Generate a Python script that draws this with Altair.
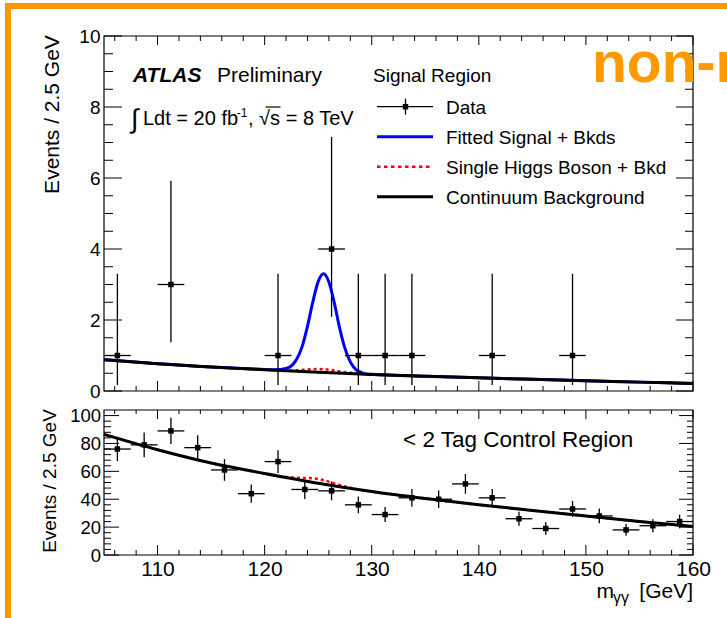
import altair as alt
import pandas as pd

FONT = "Liberation Sans"
ORANGE = "#FF9900"

# ---------------- data ----------------
# Signal region (top panel) data points, bin width 2.5 GeV
top_mass = [106.25, 111.25, 121.25, 126.25, 128.75, 131.25, 133.75, 141.25, 148.75]
top_events = [1, 3, 1, 4, 1, 1, 1, 1, 1]
top_err_lo = [0.17, 1.37, 0.17, 2.09, 0.17, 0.17, 0.17, 0.17, 0.17]
top_err_hi = [3.30, 5.92, 3.30, 7.16, 3.30, 3.30, 3.30, 3.30, 3.30]

# < 2 tag control region (bottom panel) data points
bot_mass = [106.25, 108.75, 111.25, 113.75, 116.25, 118.75, 121.25, 123.75, 126.25, 128.75, 131.25,
            133.75, 136.25, 138.75, 141.25, 143.75, 146.25, 148.75, 151.25, 153.75, 156.25, 158.75]
bot_events = [76, 79, 89, 77, 61, 44, 67, 47, 46, 36, 29, 41, 40, 51, 41, 26, 19, 33, 28, 18, 21, 24]
bot_err = [8.7, 8.9, 9.4, 8.8, 7.8, 6.6, 8.2, 6.9, 6.8, 6.0, 5.4, 6.4, 6.3, 7.1, 6.4, 5.1, 4.4, 5.7,
           5.3, 4.2, 4.6, 4.9]
bin_half = 1.25

# Continuum background curves
bkg_mass = [105, 110, 115, 120, 125, 130, 135, 140, 145, 150, 155, 160]
top_bkg = [0.88, 0.77, 0.675, 0.60, 0.53, 0.465, 0.415, 0.37, 0.33, 0.29, 0.25, 0.21]
bot_bkg = [86.5, 75.5, 66.0, 58.5, 51.5, 45.5, 40.5, 36.0, 32.0, 28.0, 24.0, 20.5]

# Fitted signal + backgrounds (top panel)
sig_mass = [105, 110, 115, 118, 120, 121, 122, 122.5, 123, 123.5, 124, 124.5, 125, 125.5, 126,
            126.5, 127, 127.5, 128, 128.5, 129, 129.5, 130, 135, 140, 145, 150, 155, 160]
sig_top = [0.88, 0.77, 0.675, 0.633, 0.608, 0.60, 0.635, 0.705, 0.90, 1.25, 1.82, 2.51, 3.08, 3.30,
           3.07, 2.49, 1.78, 1.20, 0.82, 0.61, 0.525, 0.48, 0.47, 0.415, 0.37, 0.33, 0.29, 0.25, 0.21]

# Single Higgs boson + background
higgs_top_mass = [105, 110, 115, 120, 121, 122, 123, 124, 125, 125.5, 126, 127, 128, 129, 130,
                  135, 140, 145, 150, 155, 160]
higgs_top = [0.88, 0.77, 0.675, 0.60, 0.585, 0.576, 0.583, 0.608, 0.618, 0.614, 0.60, 0.553, 0.514,
             0.488, 0.468, 0.415, 0.37, 0.33, 0.29, 0.25, 0.21]
higgs_bot_mass = [105, 110, 115, 120, 121, 122, 123, 124, 125, 126, 127, 128, 129, 130,
                  135, 140, 145, 150, 155, 160]
higgs_bot = [86.5, 75.5, 66.0, 58.5, 57.15, 56.0, 55.4, 55.2, 54.5, 52.6, 50.2, 48.2, 46.75, 45.5,
             40.5, 36.0, 32.0, 28.0, 24.0, 20.5]

# ticks / labels
x_major = [110, 120, 130, 140, 150, 160]
x_minor = [106, 108, 112, 114, 116, 118, 122, 124, 126, 128, 132, 134, 136, 138, 142, 144, 146, 148,
           152, 154, 156, 158]
top_y_major = [0, 2, 4, 6, 8, 10]
top_y_minor = [0.5, 1, 1.5, 2.5, 3, 3.5, 4.5, 5, 5.5, 6.5, 7, 7.5, 8.5, 9, 9.5]
bot_y_major = [0, 20, 40, 60, 80, 100]
bot_y_minor = [4, 8, 12, 16, 24, 28, 32, 36, 44, 48, 52, 56, 64, 68, 72, 76, 84, 88, 92, 96]

legend_title = "Signal Region"
legend_labels = ["Data", "Fitted Signal + Bkds", "Single Higgs Boson + Bkd", "Continuum Background"]
y_title = "Events / 2.5 GeV"

# ---------------- layout ----------------
X0, TOP_Y0, BOT_Y0 = 104, 36, 410
PLOT_W = 589
TOP_VIEW_W = 727 - X0
TOP_H = 355
BOT_H = 145


def tx(x):
    return x - X0


def ty(y):
    return y - TOP_Y0


def by(y):
    return y - BOT_Y0


XS = alt.Scale(domain=[105, 160], range=[0, PLOT_W], nice=False, zero=False)
YS_TOP = alt.Scale(domain=[0, 10], nice=False, zero=False)
YS_BOT = alt.Scale(domain=[0, 104], nice=False, zero=False)

AX_Y_TOP = alt.Axis(values=top_y_major, ticks=False, domain=False, grid=False, labelFont=FONT,
                    labelFontSize=19, labelColor="black", labelPadding=4, labelFlush=False,
                    labelOverlap=False, title=y_title, titleFont=FONT, titleFontSize=21,
                    titleFontWeight="normal", titleColor="black", titleAngle=270,
                    titleAlign="center", titleBaseline="middle", titleX=-51.5, titleY=ty(114))
AX_Y_BOT = alt.Axis(values=bot_y_major, ticks=False, domain=False, grid=False, labelFont=FONT,
                    labelFontSize=18.5, labelColor="black", labelPadding=3.5, labelFlush=False,
                    labelOverlap=False, title=y_title, titleFont=FONT, titleFontSize=19,
                    titleFontWeight="normal", titleColor="black", titleAngle=270,
                    titleAlign="center", titleBaseline="middle", titleX=-55, titleY=by(480.5))
AX_X_BOT = alt.Axis(values=x_major, ticks=False, domain=False, grid=False, labelFont=FONT,
                    labelFontSize=21, labelColor="black", labelPadding=3.5, labelFlush=False,
                    labelOverlap=False, format="d", title=None)


def one():
    return pd.DataFrame({"d": [0]})


def rect(x, x2, y, y2, color):
    return alt.Chart(one()).mark_rect(color=color).encode(
        x=alt.value(x), x2=alt.value(x2), y=alt.value(y), y2=alt.value(y2))


def frame(w, h):
    return alt.Chart(one()).mark_rect(filled=False, color="black", strokeWidth=1.2).encode(
        x=alt.value(0), x2=alt.value(w), y=alt.value(0), y2=alt.value(h))


def hline(x, x2, y, color="black", width=1.2, dash=None):
    kw = dict(color=color, strokeWidth=width)
    if dash:
        kw["strokeDash"] = dash
    return alt.Chart(one()).mark_rule(**kw).encode(x=alt.value(x), x2=alt.value(x2), y=alt.value(y))


def vline(x, y, y2, width=1.2):
    return alt.Chart(one()).mark_rule(color="black", strokeWidth=width).encode(
        x=alt.value(x), y=alt.value(y), y2=alt.value(y2))


def txt(s, x, y, size, align="left", weight="normal", style="normal", color="black", clip=False):
    return alt.Chart(pd.DataFrame({"t": [s]})).mark_text(
        align=align, baseline="alphabetic", font=FONT, fontSize=size, fontWeight=weight,
        fontStyle=style, color=color, clip=clip).encode(
        text="t:N", x=alt.value(x), y=alt.value(y))


def xticks(vals, length, h, top, xax):
    y, y2 = (0, length) if top else (h, h - length)
    return alt.Chart(pd.DataFrame({"v": vals})).mark_rule(color="black", strokeWidth=1).encode(
        x=alt.X("v:Q", scale=XS, axis=xax), y=alt.value(y), y2=alt.value(y2))


def yticks(vals, length, w, right, ys, yax):
    x, x2 = (w, w - length) if right else (0, length)
    return alt.Chart(pd.DataFrame({"v": vals})).mark_rule(color="black", strokeWidth=1).encode(
        y=alt.Y("v:Q", scale=ys, axis=yax), x=alt.value(x), x2=alt.value(x2))


def curve(mass, vals, ys, yax, xax, color, width, dash=None):
    kw = dict(color=color, strokeWidth=width, interpolate="monotone")
    if dash:
        kw["strokeDash"] = dash
    return alt.Chart(pd.DataFrame({"m": mass, "v": vals})).mark_line(**kw).encode(
        x=alt.X("m:Q", scale=XS, axis=xax), y=alt.Y("v:Q", scale=ys, axis=yax))


def points(mass, n, lo, hi, ys, yax, xax):
    df = pd.DataFrame({"m": mass, "n": n, "lo": lo, "hi": hi,
                       "mlo": [m - bin_half for m in mass], "mhi": [m + bin_half for m in mass]})
    v = alt.Chart(df).mark_rule(color="black", strokeWidth=1.3).encode(
        x=alt.X("m:Q", scale=XS, axis=xax), y=alt.Y("lo:Q", scale=ys, axis=yax), y2="hi:Q")
    h = alt.Chart(df).mark_rule(color="black", strokeWidth=1.3).encode(
        x=alt.X("mlo:Q", scale=XS, axis=xax), x2="mhi:Q", y=alt.Y("n:Q", scale=ys, axis=yax))
    p = alt.Chart(df).mark_square(size=30, color="black", opacity=1).encode(
        x=alt.X("m:Q", scale=XS, axis=xax), y=alt.Y("n:Q", scale=ys, axis=yax))
    return [v, h, p]


# ---------------- top panel ----------------
top_layers = [
    rect(tx(5), tx(11), ty(3), ty(618), ORANGE),
    rect(tx(5), tx(727), ty(3), ty(9), ORANGE),
    frame(PLOT_W, TOP_H),
    xticks(x_major, 10, TOP_H, False, None),
    xticks(x_minor, 5, TOP_H, False, None),
    xticks(x_major, 9, TOP_H, True, None),
    xticks(x_minor, 5, TOP_H, True, None),
    yticks(top_y_major, 18, PLOT_W, False, YS_TOP, AX_Y_TOP),
    yticks(top_y_minor, 9, PLOT_W, False, YS_TOP, AX_Y_TOP),
    yticks(top_y_major, 17, PLOT_W, True, YS_TOP, AX_Y_TOP),
    yticks(top_y_minor, 8, PLOT_W, True, YS_TOP, AX_Y_TOP),
    curve(sig_mass, sig_top, YS_TOP, AX_Y_TOP, None, "#0000FF", 3),
    curve(higgs_top_mass, higgs_top, YS_TOP, AX_Y_TOP, None, "#FF0000", 2.5, [3, 3]),
    curve(bkg_mass, top_bkg, YS_TOP, AX_Y_TOP, None, "black", 3),
]
top_layers += points(top_mass, top_events, top_err_lo, top_err_hi, YS_TOP, AX_Y_TOP, None)

# annotations
top_layers += [
    txt("ATLAS", tx(133), ty(82), 21, weight="bold", style="italic"),
    txt("Preliminary", tx(217), ty(82), 21),
    txt("\u222b", tx(131), ty(127.5), 27),
    txt("Ldt = 20 fb", tx(143), ty(125), 20),
    txt("-1", tx(236.8), ty(117), 12),
    txt(", \u221as = 8 TeV", tx(248), ty(125), 20),
    hline(tx(265.5), tx(280.5), ty(107), width=1.2),
    txt(legend_title, tx(373), ty(82), 19),
    txt("non-resonant", tx(592), ty(82), 57, weight="bold", color=ORANGE, clip=True),
]

# legend
leg_y = [106.7, 136.7, 166.7, 196.7]
leg_styles = [("black", 1.3, None), ("#0000FF", 3, None), ("#FF0000", 2.5, [3.5, 3.5]), ("black", 3, None)]
for lab, yy, (col, wdt, dsh) in zip(legend_labels, leg_y, leg_styles):
    top_layers.append(hline(tx(377), tx(433), ty(yy), color=col, width=wdt, dash=dsh))
    top_layers.append(txt(lab, tx(446), ty(yy + 7), 19))
top_layers.append(vline(tx(405.5), ty(leg_y[0] - 8), ty(leg_y[0] + 8), width=1.3))
top_layers.append(alt.Chart(one()).mark_square(size=30, color="black", opacity=1).encode(
    x=alt.value(tx(405.5)), y=alt.value(ty(leg_y[0]))))

top = alt.layer(*top_layers).properties(width=TOP_VIEW_W, height=TOP_H)

# ---------------- bottom panel ----------------
bot_layers = [
    frame(PLOT_W, BOT_H),
    xticks(x_major, 10, BOT_H, False, AX_X_BOT),
    xticks(x_minor, 5, BOT_H, False, AX_X_BOT),
    xticks(x_major, 9, BOT_H, True, AX_X_BOT),
    xticks(x_minor, 4, BOT_H, True, AX_X_BOT),
    yticks(bot_y_major, 15, PLOT_W, False, YS_BOT, AX_Y_BOT),
    yticks(bot_y_minor, 7, PLOT_W, False, YS_BOT, AX_Y_BOT),
    yticks(bot_y_major, 14, PLOT_W, True, YS_BOT, AX_Y_BOT),
    yticks(bot_y_minor, 6, PLOT_W, True, YS_BOT, AX_Y_BOT),
    curve(higgs_bot_mass, higgs_bot, YS_BOT, AX_Y_BOT, AX_X_BOT, "#FF0000", 2.5, [3, 3]),
    curve(bkg_mass, bot_bkg, YS_BOT, AX_Y_BOT, AX_X_BOT, "black", 3),
]
bot_layers += points(bot_mass, bot_events, [n - e for n, e in zip(bot_events, bot_err)],
                     [n + e for n, e in zip(bot_events, bot_err)], YS_BOT, AX_Y_BOT, AX_X_BOT)
bot_layers += [
    txt("< 2 Tag Control Region", tx(403), by(447), 22.5),
    txt("[GeV]", tx(693), by(598), 21, align="right"),
    txt("\u03b3\u03b3", tx(613), by(603), 16),
    txt("m", tx(614), by(598), 21, align="right"),
]

bottom = alt.layer(*bot_layers).properties(width=PLOT_W, height=BOT_H)

chart = alt.vconcat(top, bottom, spacing=BOT_Y0 - TOP_Y0 - TOP_H, bounds="flush").properties(
    padding={"left": 5, "top": 3, "right": 0, "bottom": 0}
).configure(background="white").configure_view(stroke=None)

chart.save("out.html", embed_options={"renderer": "svg", "actions": False})
